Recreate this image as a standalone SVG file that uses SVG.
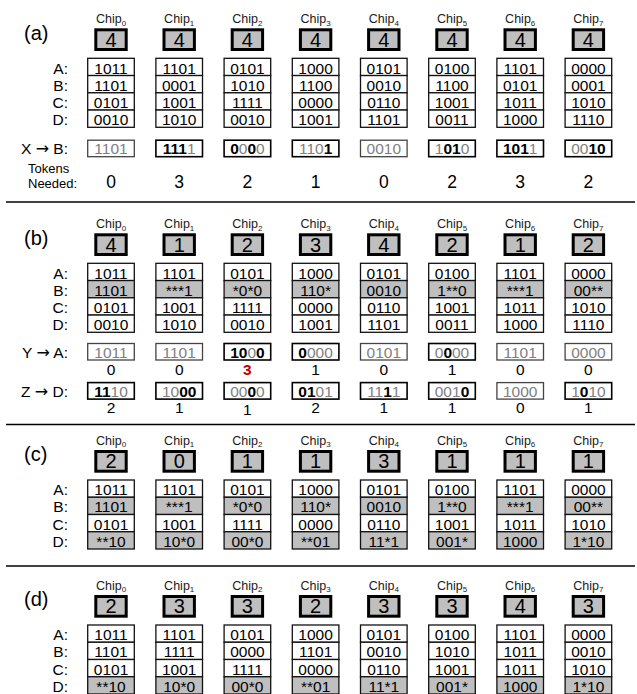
<svg xmlns="http://www.w3.org/2000/svg" width="637" height="694" viewBox="0 0 637 694">
<style>
text{font-family:"Liberation Sans",Arial,sans-serif;fill:#000}
.pl{font-size:20px}
.chip{font-size:12.5px;text-anchor:middle;fill:#1a1a1a}
.sub{font-size:8px}
.tok{fill:#bfbfbf;stroke:#000;stroke-width:3}
.tn{font-size:20px;text-anchor:middle}
.c{fill:#fff;stroke:#111;stroke-width:1.3}
.cs{fill:#bfbfbf;stroke:#111;stroke-width:1.3}
.v{font-size:15.5px;text-anchor:middle}
.rl{font-size:15.5px;text-anchor:end}
.ar{font-family:"DejaVu Sans",sans-serif;font-size:16px}
.g{fill:#808080}
.k{font-weight:bold}
.n{font-size:17.5px;text-anchor:middle}
.n2{font-size:15.5px;text-anchor:middle}
.red{fill:#c00000;font-weight:bold}
.sep{stroke:#000;stroke-width:1.3}
.q{fill:#fff;stroke:#444;stroke-width:1.3}
.qb{fill:#fff;stroke:#000;stroke-width:1.6}
.tl{font-size:13px}
</style>
<defs>
<g id="cells">
<rect class="c" x="-23.3" y="58.3" width="46.6" height="17.25"/>
<rect class="c" x="-23.3" y="75.55" width="46.6" height="17.25"/>
<rect class="c" x="-23.3" y="92.8" width="46.6" height="17.25"/>
<rect class="c" x="-23.3" y="110.05" width="46.6" height="17.25"/>
</g>
<g id="cellsB">
<rect class="c" x="-23.3" y="58.3" width="46.6" height="17.25"/>
<rect class="cs" x="-23.3" y="75.55" width="46.6" height="17.25"/>
<rect class="c" x="-23.3" y="92.8" width="46.6" height="17.25"/>
<rect class="c" x="-23.3" y="110.05" width="46.6" height="17.25"/>
</g>
<g id="cellsBD">
<rect class="c" x="-23.3" y="58.3" width="46.6" height="17.25"/>
<rect class="cs" x="-23.3" y="75.55" width="46.6" height="17.25"/>
<rect class="c" x="-23.3" y="92.8" width="46.6" height="17.25"/>
<rect class="cs" x="-23.3" y="110.05" width="46.6" height="17.25"/>
</g>
<g id="cellsD">
<rect class="c" x="-23.3" y="58.3" width="46.6" height="17.25"/>
<rect class="c" x="-23.3" y="75.55" width="46.6" height="17.25"/>
<rect class="c" x="-23.3" y="92.8" width="46.6" height="17.25"/>
<rect class="cs" x="-23.3" y="110.05" width="46.6" height="17.25"/>
</g>
<rect id="tokbox" class="tok" x="-15.2" y="29.8" width="30.4" height="19.7"/>
</defs>

<g id="separators">
<line class="sep" x1="6" y1="202" x2="635" y2="202"/>
<line class="sep" x1="6" y1="424.5" x2="635" y2="424.5"/>
<line class="sep" x1="6" y1="566" x2="635" y2="566"/>
</g>

<!-- Panel (a) -->
<g id="panel-a">
<text class="pl" x="24" y="39.5">(a)</text>
<text class="rl" x="68" y="73.5">A:</text>
<text class="rl" x="68" y="90.75">B:</text>
<text class="rl" x="68" y="108">C:</text>
<text class="rl" x="68" y="125.25">D:</text>
<text class="rl" x="68" y="154.2">X <tspan class="ar">→</tspan> B:</text>
<text class="tl" x="28" y="173">Tokens</text>
<text class="tl" x="28" y="188">Needed:</text>

<g id="a-chip0" transform="translate(111,0)">
<text class="chip" x="0" y="23.3">Chip<tspan class="sub" dy="2.5">0</tspan></text>
<use href="#tokbox"/><text class="tn" x="0" y="46.8">4</text>
<use href="#cells"/>
<text class="v" y="73.5">1011</text><text class="v" y="90.75">1101</text><text class="v" y="108">0101</text><text class="v" y="125.25">0010</text>
<rect class="q" x="-23.3" y="140.2" width="46.6" height="16.5"/>
<text class="v" y="154.2"><tspan class="g">1101</tspan></text>
<text class="n" y="187.5">0</text>
</g>
<g id="a-chip1" transform="translate(179.2,0)">
<text class="chip" x="0" y="23.3">Chip<tspan class="sub" dy="2.5">1</tspan></text>
<use href="#tokbox"/><text class="tn" x="0" y="46.8">4</text>
<use href="#cells"/>
<text class="v" y="73.5">1101</text><text class="v" y="90.75">0001</text><text class="v" y="108">1001</text><text class="v" y="125.25">1010</text>
<rect class="qb" x="-23.3" y="140.2" width="46.6" height="16.5"/>
<text class="v" y="154.2"><tspan class="k">111</tspan><tspan class="g">1</tspan></text>
<text class="n" y="187.5">3</text>
</g>
<g id="a-chip2" transform="translate(247.4,0)">
<text class="chip" x="0" y="23.3">Chip<tspan class="sub" dy="2.5">2</tspan></text>
<use href="#tokbox"/><text class="tn" x="0" y="46.8">4</text>
<use href="#cells"/>
<text class="v" y="73.5">0101</text><text class="v" y="90.75">1010</text><text class="v" y="108">1111</text><text class="v" y="125.25">0010</text>
<rect class="qb" x="-23.3" y="140.2" width="46.6" height="16.5"/>
<text class="v" y="154.2"><tspan class="k">0</tspan><tspan class="g">0</tspan><tspan class="k">0</tspan><tspan class="g">0</tspan></text>
<text class="n" y="187.5">2</text>
</g>
<g id="a-chip3" transform="translate(315.6,0)">
<text class="chip" x="0" y="23.3">Chip<tspan class="sub" dy="2.5">3</tspan></text>
<use href="#tokbox"/><text class="tn" x="0" y="46.8">4</text>
<use href="#cells"/>
<text class="v" y="73.5">1000</text><text class="v" y="90.75">1100</text><text class="v" y="108">0000</text><text class="v" y="125.25">1001</text>
<rect class="qb" x="-23.3" y="140.2" width="46.6" height="16.5"/>
<text class="v" y="154.2"><tspan class="g">110</tspan><tspan class="k">1</tspan></text>
<text class="n" y="187.5">1</text>
</g>
<g id="a-chip4" transform="translate(383.8,0)">
<text class="chip" x="0" y="23.3">Chip<tspan class="sub" dy="2.5">4</tspan></text>
<use href="#tokbox"/><text class="tn" x="0" y="46.8">4</text>
<use href="#cells"/>
<text class="v" y="73.5">0101</text><text class="v" y="90.75">0010</text><text class="v" y="108">0110</text><text class="v" y="125.25">1101</text>
<rect class="q" x="-23.3" y="140.2" width="46.6" height="16.5"/>
<text class="v" y="154.2"><tspan class="g">0010</tspan></text>
<text class="n" y="187.5">0</text>
</g>
<g id="a-chip5" transform="translate(452,0)">
<text class="chip" x="0" y="23.3">Chip<tspan class="sub" dy="2.5">5</tspan></text>
<use href="#tokbox"/><text class="tn" x="0" y="46.8">4</text>
<use href="#cells"/>
<text class="v" y="73.5">0100</text><text class="v" y="90.75">1100</text><text class="v" y="108">1001</text><text class="v" y="125.25">0011</text>
<rect class="qb" x="-23.3" y="140.2" width="46.6" height="16.5"/>
<text class="v" y="154.2"><tspan class="g">1</tspan><tspan class="k">01</tspan><tspan class="g">0</tspan></text>
<text class="n" y="187.5">2</text>
</g>
<g id="a-chip6" transform="translate(520.2,0)">
<text class="chip" x="0" y="23.3">Chip<tspan class="sub" dy="2.5">6</tspan></text>
<use href="#tokbox"/><text class="tn" x="0" y="46.8">4</text>
<use href="#cells"/>
<text class="v" y="73.5">1101</text><text class="v" y="90.75">0101</text><text class="v" y="108">1011</text><text class="v" y="125.25">1000</text>
<rect class="qb" x="-23.3" y="140.2" width="46.6" height="16.5"/>
<text class="v" y="154.2"><tspan class="k">101</tspan><tspan class="g">1</tspan></text>
<text class="n" y="187.5">3</text>
</g>
<g id="a-chip7" transform="translate(588.4,0)">
<text class="chip" x="0" y="23.3">Chip<tspan class="sub" dy="2.5">7</tspan></text>
<use href="#tokbox"/><text class="tn" x="0" y="46.8">4</text>
<use href="#cells"/>
<text class="v" y="73.5">0000</text><text class="v" y="90.75">0001</text><text class="v" y="108">1010</text><text class="v" y="125.25">1110</text>
<rect class="qb" x="-23.3" y="140.2" width="46.6" height="16.5"/>
<text class="v" y="154.2"><tspan class="g">00</tspan><tspan class="k">10</tspan></text>
<text class="n" y="187.5">2</text>
</g>
</g>

<!-- Panel (b) -->
<g id="panel-b" transform="translate(0,205)">
<text class="pl" x="24" y="39.5">(b)</text>
<text class="rl" x="68" y="73.5">A:</text>
<text class="rl" x="68" y="90.75">B:</text>
<text class="rl" x="68" y="108">C:</text>
<text class="rl" x="68" y="125.25">D:</text>
<text class="rl" x="68" y="152.7">Y <tspan class="ar">→</tspan> A:</text>
<text class="rl" x="68" y="191.7">Z <tspan class="ar">→</tspan> D:</text>

<g id="b-chip0" transform="translate(111,0)">
<text class="chip" x="0" y="23.3">Chip<tspan class="sub" dy="2.5">0</tspan></text>
<use href="#tokbox"/><text class="tn" x="0" y="46.8">4</text>
<use href="#cellsB"/>
<text class="v" y="73.5">1011</text><text class="v" y="90.75">1101</text><text class="v" y="108">0101</text><text class="v" y="125.25">0010</text>
<rect class="q" x="-23.3" y="138.5" width="46.6" height="16.5"/>
<text class="v" y="152.7"><tspan class="g">1011</tspan></text>
<text class="n2" y="170">0</text>
<rect class="qb" x="-23.3" y="177.6" width="46.6" height="16.5"/>
<text class="v" y="191.7"><tspan class="k">11</tspan><tspan class="g">10</tspan></text>
<text class="n2" y="208.3">2</text>
</g>
<g id="b-chip1" transform="translate(179.2,0)">
<text class="chip" x="0" y="23.3">Chip<tspan class="sub" dy="2.5">1</tspan></text>
<use href="#tokbox"/><text class="tn" x="0" y="46.8">1</text>
<use href="#cellsB"/>
<text class="v" y="73.5">1101</text><text class="v" y="90.75">***1</text><text class="v" y="108">1001</text><text class="v" y="125.25">1010</text>
<rect class="q" x="-23.3" y="138.5" width="46.6" height="16.5"/>
<text class="v" y="152.7"><tspan class="g">1101</tspan></text>
<text class="n2" y="170">0</text>
<rect class="qb" x="-23.3" y="177.6" width="46.6" height="16.5"/>
<text class="v" y="191.7"><tspan class="g">10</tspan><tspan class="k">00</tspan></text>
<text class="n2" y="208.3">1</text>
</g>
<g id="b-chip2" transform="translate(247.4,0)">
<text class="chip" x="0" y="23.3">Chip<tspan class="sub" dy="2.5">2</tspan></text>
<use href="#tokbox"/><text class="tn" x="0" y="46.8">2</text>
<use href="#cellsB"/>
<text class="v" y="73.5">0101</text><text class="v" y="90.75">*0*0</text><text class="v" y="108">1111</text><text class="v" y="125.25">0010</text>
<rect class="qb" x="-23.3" y="138.5" width="46.6" height="16.5"/>
<text class="v" y="152.7"><tspan class="k">10</tspan><tspan class="g">0</tspan><tspan class="k">0</tspan></text>
<text class="n2 red" y="170">3</text>
<rect class="qb" x="-23.3" y="177.6" width="46.6" height="16.5"/>
<text class="v" y="191.7"><tspan class="g">00</tspan><tspan class="k">0</tspan><tspan class="g">0</tspan></text>
<text class="n2" y="209.5">1</text>
</g>
<g id="b-chip3" transform="translate(315.6,0)">
<text class="chip" x="0" y="23.3">Chip<tspan class="sub" dy="2.5">3</tspan></text>
<use href="#tokbox"/><text class="tn" x="0" y="46.8">3</text>
<use href="#cellsB"/>
<text class="v" y="73.5">1000</text><text class="v" y="90.75">110*</text><text class="v" y="108">0000</text><text class="v" y="125.25">1001</text>
<rect class="qb" x="-23.3" y="138.5" width="46.6" height="16.5"/>
<text class="v" y="152.7"><tspan class="k">0</tspan><tspan class="g">000</tspan></text>
<text class="n2" y="170">1</text>
<rect class="qb" x="-23.3" y="177.6" width="46.6" height="16.5"/>
<text class="v" y="191.7"><tspan class="k">01</tspan><tspan class="g">01</tspan></text>
<text class="n2" y="208.3">2</text>
</g>
<g id="b-chip4" transform="translate(383.8,0)">
<text class="chip" x="0" y="23.3">Chip<tspan class="sub" dy="2.5">4</tspan></text>
<use href="#tokbox"/><text class="tn" x="0" y="46.8">4</text>
<use href="#cellsB"/>
<text class="v" y="73.5">0101</text><text class="v" y="90.75">0010</text><text class="v" y="108">0110</text><text class="v" y="125.25">1101</text>
<rect class="q" x="-23.3" y="138.5" width="46.6" height="16.5"/>
<text class="v" y="152.7"><tspan class="g">0101</tspan></text>
<text class="n2" y="170">0</text>
<rect class="qb" x="-23.3" y="177.6" width="46.6" height="16.5"/>
<text class="v" y="191.7"><tspan class="g">11</tspan><tspan class="k">1</tspan><tspan class="g">1</tspan></text>
<text class="n2" y="208.3">1</text>
</g>
<g id="b-chip5" transform="translate(452,0)">
<text class="chip" x="0" y="23.3">Chip<tspan class="sub" dy="2.5">5</tspan></text>
<use href="#tokbox"/><text class="tn" x="0" y="46.8">2</text>
<use href="#cellsB"/>
<text class="v" y="73.5">0100</text><text class="v" y="90.75">1**0</text><text class="v" y="108">1001</text><text class="v" y="125.25">0011</text>
<rect class="qb" x="-23.3" y="138.5" width="46.6" height="16.5"/>
<text class="v" y="152.7"><tspan class="g">0</tspan><tspan class="k">0</tspan><tspan class="g">00</tspan></text>
<text class="n2" y="170">1</text>
<rect class="qb" x="-23.3" y="177.6" width="46.6" height="16.5"/>
<text class="v" y="191.7"><tspan class="g">001</tspan><tspan class="k">0</tspan></text>
<text class="n2" y="208.3">1</text>
</g>
<g id="b-chip6" transform="translate(520.2,0)">
<text class="chip" x="0" y="23.3">Chip<tspan class="sub" dy="2.5">6</tspan></text>
<use href="#tokbox"/><text class="tn" x="0" y="46.8">1</text>
<use href="#cellsB"/>
<text class="v" y="73.5">1101</text><text class="v" y="90.75">***1</text><text class="v" y="108">1011</text><text class="v" y="125.25">1000</text>
<rect class="q" x="-23.3" y="138.5" width="46.6" height="16.5"/>
<text class="v" y="152.7"><tspan class="g">1101</tspan></text>
<text class="n2" y="170">0</text>
<rect class="q" x="-23.3" y="177.6" width="46.6" height="16.5"/>
<text class="v" y="191.7"><tspan class="g">1000</tspan></text>
<text class="n2" y="208.3">0</text>
</g>
<g id="b-chip7" transform="translate(588.4,0)">
<text class="chip" x="0" y="23.3">Chip<tspan class="sub" dy="2.5">7</tspan></text>
<use href="#tokbox"/><text class="tn" x="0" y="46.8">2</text>
<use href="#cellsB"/>
<text class="v" y="73.5">0000</text><text class="v" y="90.75">00**</text><text class="v" y="108">1010</text><text class="v" y="125.25">1110</text>
<rect class="q" x="-23.3" y="138.5" width="46.6" height="16.5"/>
<text class="v" y="152.7"><tspan class="g">0000</tspan></text>
<text class="n2" y="170">0</text>
<rect class="qb" x="-23.3" y="177.6" width="46.6" height="16.5"/>
<text class="v" y="191.7"><tspan class="g">1</tspan><tspan class="k">0</tspan><tspan class="g">10</tspan></text>
<text class="n2" y="208.3">1</text>
</g>
</g>

<!-- Panel (c) -->
<g id="panel-c" transform="translate(0,421.7)">
<text class="pl" x="24" y="39.5">(c)</text>
<text class="rl" x="68" y="73.5">A:</text>
<text class="rl" x="68" y="90.75">B:</text>
<text class="rl" x="68" y="108">C:</text>
<text class="rl" x="68" y="125.25">D:</text>
<g id="c-chip0" transform="translate(111,0)">
<text class="chip" x="0" y="23.3">Chip<tspan class="sub" dy="2.5">0</tspan></text>
<use href="#tokbox"/><text class="tn" x="0" y="46.8">2</text>
<use href="#cellsBD"/>
<text class="v" y="73.5">1011</text><text class="v" y="90.75">1101</text><text class="v" y="108">0101</text><text class="v" y="125.25">**10</text>
</g>
<g id="c-chip1" transform="translate(179.2,0)">
<text class="chip" x="0" y="23.3">Chip<tspan class="sub" dy="2.5">1</tspan></text>
<use href="#tokbox"/><text class="tn" x="0" y="46.8">0</text>
<use href="#cellsBD"/>
<text class="v" y="73.5">1101</text><text class="v" y="90.75">***1</text><text class="v" y="108">1001</text><text class="v" y="125.25">10*0</text>
</g>
<g id="c-chip2" transform="translate(247.4,0)">
<text class="chip" x="0" y="23.3">Chip<tspan class="sub" dy="2.5">2</tspan></text>
<use href="#tokbox"/><text class="tn" x="0" y="46.8">1</text>
<use href="#cellsBD"/>
<text class="v" y="73.5">0101</text><text class="v" y="90.75">*0*0</text><text class="v" y="108">1111</text><text class="v" y="125.25">00*0</text>
</g>
<g id="c-chip3" transform="translate(315.6,0)">
<text class="chip" x="0" y="23.3">Chip<tspan class="sub" dy="2.5">3</tspan></text>
<use href="#tokbox"/><text class="tn" x="0" y="46.8">1</text>
<use href="#cellsBD"/>
<text class="v" y="73.5">1000</text><text class="v" y="90.75">110*</text><text class="v" y="108">0000</text><text class="v" y="125.25">**01</text>
</g>
<g id="c-chip4" transform="translate(383.8,0)">
<text class="chip" x="0" y="23.3">Chip<tspan class="sub" dy="2.5">4</tspan></text>
<use href="#tokbox"/><text class="tn" x="0" y="46.8">3</text>
<use href="#cellsBD"/>
<text class="v" y="73.5">0101</text><text class="v" y="90.75">0010</text><text class="v" y="108">0110</text><text class="v" y="125.25">11*1</text>
</g>
<g id="c-chip5" transform="translate(452,0)">
<text class="chip" x="0" y="23.3">Chip<tspan class="sub" dy="2.5">5</tspan></text>
<use href="#tokbox"/><text class="tn" x="0" y="46.8">1</text>
<use href="#cellsBD"/>
<text class="v" y="73.5">0100</text><text class="v" y="90.75">1**0</text><text class="v" y="108">1001</text><text class="v" y="125.25">001*</text>
</g>
<g id="c-chip6" transform="translate(520.2,0)">
<text class="chip" x="0" y="23.3">Chip<tspan class="sub" dy="2.5">6</tspan></text>
<use href="#tokbox"/><text class="tn" x="0" y="46.8">1</text>
<use href="#cellsBD"/>
<text class="v" y="73.5">1101</text><text class="v" y="90.75">***1</text><text class="v" y="108">1011</text><text class="v" y="125.25">1000</text>
</g>
<g id="c-chip7" transform="translate(588.4,0)">
<text class="chip" x="0" y="23.3">Chip<tspan class="sub" dy="2.5">7</tspan></text>
<use href="#tokbox"/><text class="tn" x="0" y="46.8">1</text>
<use href="#cellsBD"/>
<text class="v" y="73.5">0000</text><text class="v" y="90.75">00**</text><text class="v" y="108">1010</text><text class="v" y="125.25">1*10</text>
</g>
</g>

<!-- Panel (d) -->
<g id="panel-d" transform="translate(0,566.7)">
<text class="pl" x="24" y="39.5">(d)</text>
<text class="rl" x="68" y="73.5">A:</text>
<text class="rl" x="68" y="90.75">B:</text>
<text class="rl" x="68" y="108">C:</text>
<text class="rl" x="68" y="125.25">D:</text>
<g id="d-chip0" transform="translate(111,0)">
<text class="chip" x="0" y="23.3">Chip<tspan class="sub" dy="2.5">0</tspan></text>
<use href="#tokbox"/><text class="tn" x="0" y="46.8">2</text>
<use href="#cellsD"/>
<text class="v" y="73.5">1011</text><text class="v" y="90.75">1101</text><text class="v" y="108">0101</text><text class="v" y="125.25">**10</text>
</g>
<g id="d-chip1" transform="translate(179.2,0)">
<text class="chip" x="0" y="23.3">Chip<tspan class="sub" dy="2.5">1</tspan></text>
<use href="#tokbox"/><text class="tn" x="0" y="46.8">3</text>
<use href="#cellsD"/>
<text class="v" y="73.5">1101</text><text class="v" y="90.75">1111</text><text class="v" y="108">1001</text><text class="v" y="125.25">10*0</text>
</g>
<g id="d-chip2" transform="translate(247.4,0)">
<text class="chip" x="0" y="23.3">Chip<tspan class="sub" dy="2.5">2</tspan></text>
<use href="#tokbox"/><text class="tn" x="0" y="46.8">3</text>
<use href="#cellsD"/>
<text class="v" y="73.5">0101</text><text class="v" y="90.75">0000</text><text class="v" y="108">1111</text><text class="v" y="125.25">00*0</text>
</g>
<g id="d-chip3" transform="translate(315.6,0)">
<text class="chip" x="0" y="23.3">Chip<tspan class="sub" dy="2.5">3</tspan></text>
<use href="#tokbox"/><text class="tn" x="0" y="46.8">2</text>
<use href="#cellsD"/>
<text class="v" y="73.5">1000</text><text class="v" y="90.75">1101</text><text class="v" y="108">0000</text><text class="v" y="125.25">**01</text>
</g>
<g id="d-chip4" transform="translate(383.8,0)">
<text class="chip" x="0" y="23.3">Chip<tspan class="sub" dy="2.5">4</tspan></text>
<use href="#tokbox"/><text class="tn" x="0" y="46.8">3</text>
<use href="#cellsD"/>
<text class="v" y="73.5">0101</text><text class="v" y="90.75">0010</text><text class="v" y="108">0110</text><text class="v" y="125.25">11*1</text>
</g>
<g id="d-chip5" transform="translate(452,0)">
<text class="chip" x="0" y="23.3">Chip<tspan class="sub" dy="2.5">5</tspan></text>
<use href="#tokbox"/><text class="tn" x="0" y="46.8">3</text>
<use href="#cellsD"/>
<text class="v" y="73.5">0100</text><text class="v" y="90.75">1010</text><text class="v" y="108">1001</text><text class="v" y="125.25">001*</text>
</g>
<g id="d-chip6" transform="translate(520.2,0)">
<text class="chip" x="0" y="23.3">Chip<tspan class="sub" dy="2.5">6</tspan></text>
<use href="#tokbox"/><text class="tn" x="0" y="46.8">4</text>
<use href="#cellsD"/>
<text class="v" y="73.5">1101</text><text class="v" y="90.75">1011</text><text class="v" y="108">1011</text><text class="v" y="125.25">1000</text>
</g>
<g id="d-chip7" transform="translate(588.4,0)">
<text class="chip" x="0" y="23.3">Chip<tspan class="sub" dy="2.5">7</tspan></text>
<use href="#tokbox"/><text class="tn" x="0" y="46.8">3</text>
<use href="#cellsD"/>
<text class="v" y="73.5">0000</text><text class="v" y="90.75">0010</text><text class="v" y="108">1010</text><text class="v" y="125.25">1*10</text>
</g>
</g>
</svg>
